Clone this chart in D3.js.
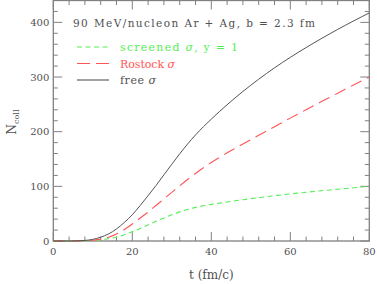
<!DOCTYPE html>
<html>
<head>
<meta charset="utf-8">
<script src="https://cdn.jsdelivr.net/npm/d3@7"></script>
<style>
  body { margin: 0; background: #fff; }
  svg { display: block; }
  text { font-family: "DejaVu Serif", serif; }
</style>
</head>
<body>
<div id="chart"></div>
<script>
const tValues = [0, 2, 4, 6, 8, 10, 12, 14, 16, 18, 20, 22, 24, 26, 28, 30, 32, 34, 36, 38, 40,
    42, 44, 46, 48, 50, 52, 54, 56, 58, 60, 62, 64, 66, 68, 70, 72, 74, 76, 78, 80];
const freeValues = [0, 0, 0, 0.3, 1, 3, 7, 13, 22, 34, 48, 65, 83, 101.5, 121, 140.5, 159.5, 177.5, 194, 209, 223,
    236.4, 249.3, 261.7, 273.6, 285, 296, 306.6, 316.8, 326.6, 336, 345.1, 353.9, 362.5, 370.9, 379.1,
    387.1, 394.9, 402.5, 410, 417.3];
const rostockValues = [0, 0, 0, 0.2, 0.5, 1.5, 3.5, 7, 13, 21, 31, 42, 53, 65, 77, 89, 101, 112.6, 123.6, 134, 143.7,
    152.8, 161.3, 169.5, 177.5, 185.4, 193.3, 201.2, 209.1, 217, 224.8, 232.5, 240.2, 247.9, 255.5, 263,
    270.5, 278, 285.4, 292.7, 300];
const screenedValues = [0, 0, 0, 0.1, 0.3, 1, 2, 4, 7, 11.5, 17, 23, 29.5, 36, 42, 48, 53.3, 57.8, 61.5, 64.5, 67,
    69.3, 71.5, 73.6, 75.6, 77.5, 79.3, 81.1, 82.8, 84.5, 86.1, 87.6, 89.1, 90.6, 92, 93.4,
    94.8, 96.1, 97.4, 98.7, 100];
const xTicks = [0, 20, 40, 60, 80];
const yTicks = [0, 100, 200, 300, 400];

const width = 377, height = 284;
const plotLeft = 53.3, plotRight = 369.3, plotTop = 0.5, plotBottom = 241;

const svg = d3.select("#chart").append("svg")
    .attr("width", width)
    .attr("height", height);

const x = d3.scaleLinear().domain([0, 80]).range([plotLeft, plotRight]);
const y = d3.scaleLinear().domain([0, 440]).range([plotBottom, plotTop]);

const axisColor = "#808080";
const textColor = "#505050";

// ticks on all four sides, pointing inward
const minorX = d3.range(0, 81, 4);
const minorY = d3.range(0, 441, 20);
const tickG = svg.append("g").attr("stroke", axisColor).attr("stroke-width", 1);

minorX.forEach(t => {
    const len = t % 20 === 0 ? 9 : 4.5;
    tickG.append("line").attr("x1", x(t)).attr("x2", x(t)).attr("y1", plotBottom).attr("y2", plotBottom - len);
    tickG.append("line").attr("x1", x(t)).attr("x2", x(t)).attr("y1", plotTop).attr("y2", plotTop + len);
});
minorY.forEach(v => {
    const len = v % 100 === 0 ? 9 : 4.5;
    tickG.append("line").attr("x1", plotLeft).attr("x2", plotLeft + len).attr("y1", y(v)).attr("y2", y(v));
    tickG.append("line").attr("x1", plotRight).attr("x2", plotRight - len).attr("y1", y(v)).attr("y2", y(v));
});

// frame
svg.append("rect")
    .attr("x", plotLeft).attr("y", plotTop)
    .attr("width", plotRight - plotLeft).attr("height", plotBottom - plotTop)
    .attr("fill", "none")
    .attr("stroke", axisColor)
    .attr("stroke-width", 1.3);

// tick labels
svg.selectAll(".xlab").data(xTicks).enter().append("text")
    .attr("x", d => x(d)).attr("y", plotBottom + 14)
    .attr("text-anchor", "middle")
    .attr("font-size", 10).attr("fill", textColor)
    .text(d => d);

svg.selectAll(".ylab").data(yTicks).enter().append("text")
    .attr("x", plotLeft - 4).attr("y", d => y(d) + 3.5)
    .attr("text-anchor", "end")
    .attr("font-size", 10).attr("fill", textColor)
    .text(d => d);

// axis titles
svg.append("text")
    .attr("x", (plotLeft + plotRight) / 2).attr("y", 279)
    .attr("text-anchor", "middle")
    .attr("font-size", 12).attr("fill", textColor)
    .text("t  (fm/c)");

const yTitle = svg.append("text")
    .attr("transform", "translate(16,122) rotate(-90)")
    .attr("text-anchor", "middle")
    .attr("font-size", 12).attr("fill", textColor);
yTitle.append("tspan").text("N");
yTitle.append("tspan").attr("font-size", 8).attr("dy", 3).text("coll");

// curves
const line = d3.line()
    .x((d, i) => x(tValues[i]))
    .y(d => y(d))
    .curve(d3.curveMonotoneX);

const series = [
    { name: "screened", values: screenedValues, color: "#55ee55", dash: "5,3.5", width: 1.1 },
    { name: "rostock", values: rostockValues, color: "#ff5555", dash: "12,6", width: 1.1 },
    { name: "free", values: freeValues, color: "#555", dash: null, width: 1 }
];

svg.selectAll(".curve").data(series).enter().append("path")
    .attr("d", d => line(d.values))
    .attr("fill", "none")
    .attr("stroke", d => d.color)
    .attr("stroke-width", d => d.width)
    .attr("stroke-dasharray", d => d.dash);

// title
svg.append("text")
    .attr("x", 73).attr("y", 27)
    .attr("font-size", 10.5).attr("fill", textColor)
    .attr("textLength", 242).attr("lengthAdjust", "spacing")
    .text("90 MeV/nucleon Ar + Ag, b = 2.3 fm");

// legend
const legend = [
    { pre: "screened ", post: ", y = 1", color: "#55ee55", dash: "5,3.5", yy: 47, len: 118 },
    { pre: "Rostock ", post: "", color: "#ff5555", dash: "13,6", yy: 63.5, len: 55 },
    { pre: "free ", post: "", color: "#555", dash: null, yy: 80, len: 36 }
];
legend.forEach(d => {
    svg.append("line")
        .attr("x1", 77).attr("x2", 109).attr("y1", d.yy).attr("y2", d.yy)
        .attr("stroke", d.color).attr("stroke-width", 1.1)
        .attr("stroke-dasharray", d.dash);
    const t = svg.append("text")
        .attr("x", 120).attr("y", d.yy + 4)
        .attr("font-size", 11)
        .attr("textLength", d.len).attr("lengthAdjust", "spacing")
        .attr("fill", d.color === "#555" ? textColor : d.color);
    t.append("tspan").text(d.pre);
    t.append("tspan").attr("font-style", "italic").text("σ");
    if (d.post) t.append("tspan").text(d.post);
});
</script>
</body>
</html>
